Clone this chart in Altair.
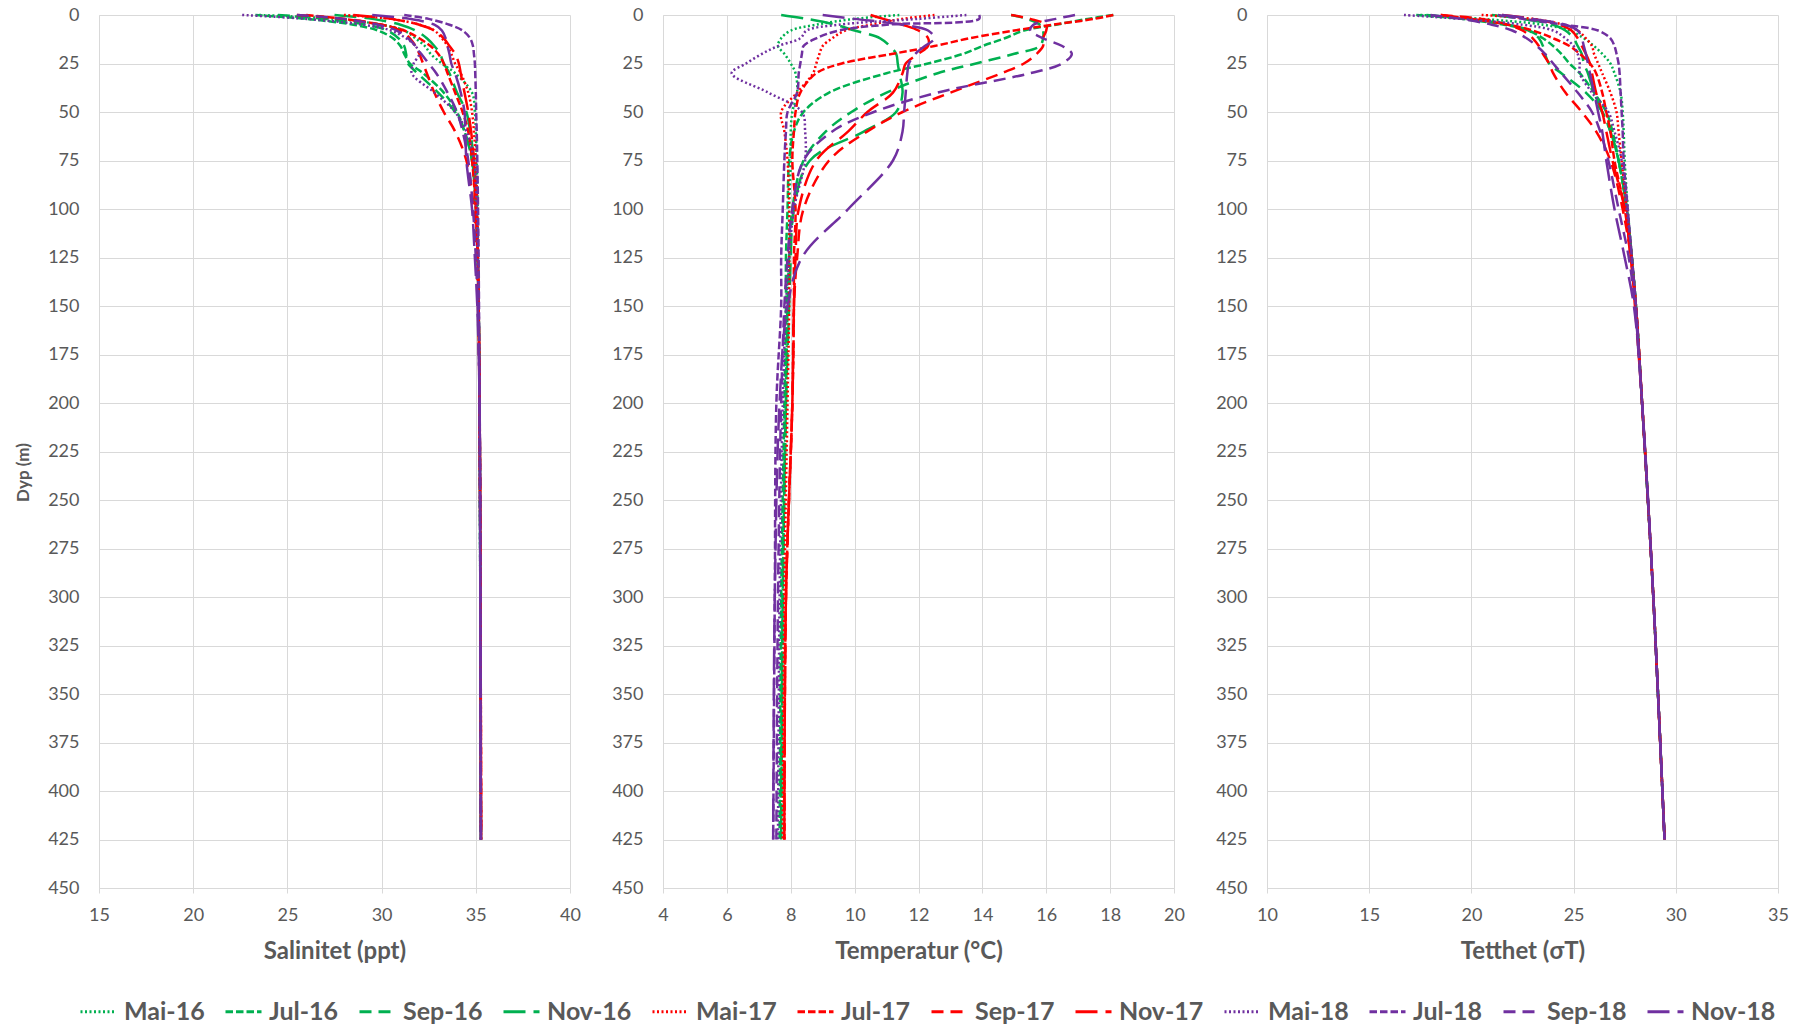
import altair as alt
import pandas as pd

DEPTHS = [0, 2, 5, 8, 12, 16, 20, 25, 30, 40, 50, 60, 75, 100, 125, 150, 200, 300, 425]

SERIES = ["Mai-16", "Jul-16", "Sep-16", "Nov-16",
          "Mai-17", "Jul-17", "Sep-17", "Nov-17",
          "Mai-18", "Jul-18", "Sep-18", "Nov-18"]
COLORS = ["#00B050"] * 4 + ["#FF0000"] * 4 + ["#7030A0"] * 4
DASHES = [[2, 2.5], [7.5, 3], [12, 7], [22, 8]] * 3

SAL = {
    "Mai-16": [23.5, 27.5, 30.0, 31.2, 31.8, 32.3, 32.6, 33.2, 33.9, 34.8, 34.95, 35.0, 35.05, 35.1, 35.12, 35.15, 35.2, 35.24, 35.27],
    "Jul-16": [23.3, 26.0, 28.5, 29.8, 30.6, 31.0, 31.2, 31.5, 32.2, 33.3, 34.0, 34.4, 34.8, 35.0, 35.1, 35.15, 35.2, 35.24, 35.27],
    "Sep-16": [24.5, 27.0, 29.2, 30.3, 30.9, 31.2, 31.3, 31.4, 31.9, 33.0, 33.9, 34.4, 34.8, 35.0, 35.1, 35.15, 35.2, 35.24, 35.27],
    "Nov-16": [27.5, 29.5, 31.0, 31.8, 32.4, 32.8, 33.1, 33.3, 33.6, 34.0, 34.5, 34.7, 34.9, 35.05, 35.1, 35.15, 35.2, 35.24, 35.27],
    "Mai-17": [28.0, 30.5, 32.0, 32.8, 33.2, 33.5, 33.7, 33.9, 34.2, 34.6, 34.8, 34.9, 35.0, 35.08, 35.12, 35.15, 35.2, 35.25, 35.28],
    "Jul-17": [26.0, 28.0, 30.0, 31.2, 32.0, 32.6, 33.0, 33.3, 33.5, 33.9, 34.3, 34.6, 34.8, 35.0, 35.1, 35.15, 35.2, 35.25, 35.28],
    "Sep-17": [25.5, 28.0, 30.0, 31.0, 31.5, 31.8, 32.0, 32.2, 32.4, 32.8, 33.3, 33.9, 34.5, 34.9, 35.05, 35.12, 35.2, 35.25, 35.28],
    "Nov-17": [28.5, 30.5, 32.0, 32.8, 33.3, 33.6, 33.9, 34.1, 34.2, 34.4, 34.6, 34.75, 34.9, 35.0, 35.1, 35.15, 35.2, 35.25, 35.28],
    "Mai-18": [22.6, 26.0, 29.0, 30.5, 31.3, 31.8, 32.0, 31.7, 31.6, 32.8, 33.9, 34.5, 34.9, 35.05, 35.1, 35.15, 35.2, 35.24, 35.27],
    "Jul-18": [31.2, 32.5, 33.6, 34.3, 34.7, 34.85, 34.9, 34.95, 34.97, 35.0, 35.02, 35.05, 35.08, 35.12, 35.15, 35.17, 35.2, 35.24, 35.27],
    "Sep-18": [25.5, 28.0, 29.8, 30.8, 31.4, 31.8, 32.1, 32.5, 32.9, 33.5, 34.0, 34.3, 34.6, 34.85, 35.0, 35.1, 35.2, 35.24, 35.27],
    "Nov-18": [29.5, 31.5, 32.8, 33.2, 33.4, 33.5, 33.6, 33.7, 33.9, 34.2, 34.4, 34.45, 34.5, 34.8, 34.95, 35.08, 35.2, 35.24, 35.27],
}

TEMP = {
    "Mai-16": [11.4, 10.0, 8.8, 8.0, 7.7, 7.6, 7.8, 8.0, 8.15, 8.2, 8.05, 8.0, 8.0, 7.95, 7.95, 7.9, 7.85, 7.75, 7.7],
    "Jul-16": [18.1, 17.3, 16.3, 15.3, 14.7, 14.0, 13.4, 12.3, 11.0, 9.2, 8.4, 8.1, 7.95, 7.9, 7.85, 7.85, 7.8, 7.7, 7.65],
    "Sep-16": [14.9, 15.4, 15.8, 15.9, 15.9, 15.8, 15.0, 13.8, 12.6, 11.0, 9.9, 9.1, 8.4, 8.05, 7.95, 7.9, 7.85, 7.75, 7.7],
    "Nov-16": [7.7, 8.5, 9.4, 10.0, 10.8, 11.1, 11.3, 11.35, 11.4, 11.5, 11.3, 10.3, 8.6, 8.1, 8.0, 7.95, 7.85, 7.75, 7.7],
    "Mai-17": [12.5, 11.5, 10.5, 9.7, 9.3, 9.0, 8.9, 8.8, 8.7, 8.2, 7.7, 7.8, 7.9, 7.95, 7.95, 7.95, 7.9, 7.8, 7.75],
    "Jul-17": [18.1, 17.5, 16.2, 15.0, 13.6, 12.5, 11.2, 9.6, 8.8, 8.3, 8.15, 8.1, 8.05, 8.15, 8.1, 8.1, 8.05, 7.85, 7.8],
    "Sep-17": [14.9, 15.5, 16.0, 16.0, 15.9, 15.9, 15.7, 15.3, 14.6, 13.0, 11.5, 10.4, 9.2, 8.4, 8.2, 8.1, 8.05, 7.85, 7.8],
    "Nov-17": [10.5, 10.9, 11.5, 12.0, 12.3, 12.3, 12.0, 11.6, 11.5, 11.2, 10.4, 9.8, 8.8, 8.25, 8.15, 8.1, 8.05, 7.85, 7.8],
    "Mai-18": [13.5, 12.0, 9.5, 8.5, 8.3, 7.6, 7.1, 6.6, 6.15, 7.3, 8.35, 8.45, 8.45, 8.1, 7.95, 7.85, 7.75, 7.65, 7.6],
    "Jul-18": [13.9, 13.9, 11.0, 9.5, 8.8, 8.4, 8.35, 8.3, 8.25, 8.2, 7.9, 7.85, 7.8, 7.75, 7.7, 7.7, 7.55, 7.5, 7.45],
    "Sep-18": [16.9, 16.3, 15.6, 15.5, 15.9, 16.5, 16.8, 16.5, 15.5, 12.6, 10.6, 9.3, 8.4, 8.05, 7.9, 7.8, 7.7, 7.6, 7.55],
    "Nov-18": [9.0, 10.0, 11.5, 12.3, 12.5, 12.2, 11.9, 11.7, 11.65, 11.6, 11.55, 11.5, 11.2, 9.8, 8.35, 7.9, 7.65, 7.5, 7.45],
}

DENS = {
    "Mai-16": [17.5, 20.5, 23.5, 24.8, 25.5, 26.0, 26.4, 26.8, 27.0, 27.3, 27.4, 27.45, 27.5, 27.65, 27.85, 28.05, 28.35, 28.9, 29.45],
    "Jul-16": [17.3, 19.5, 21.6, 22.8, 23.5, 24.0, 24.4, 24.8, 25.3, 26.0, 26.6, 26.9, 27.2, 27.6, 27.85, 28.05, 28.35, 28.9, 29.45],
    "Sep-16": [17.8, 20.0, 21.8, 22.8, 23.3, 23.5, 23.6, 23.8, 24.4, 25.6, 26.4, 26.8, 27.2, 27.6, 27.85, 28.05, 28.35, 28.9, 29.45],
    "Nov-16": [21.0, 22.5, 24.0, 24.6, 25.0, 25.2, 25.4, 25.5, 25.7, 26.0, 26.4, 26.8, 27.2, 27.6, 27.85, 28.05, 28.35, 28.9, 29.45],
    "Mai-17": [20.5, 23.0, 24.5, 25.2, 25.6, 25.9, 26.0, 26.2, 26.4, 26.8, 27.1, 27.2, 27.35, 27.6, 27.85, 28.05, 28.35, 28.9, 29.45],
    "Jul-17": [18.5, 20.0, 21.8, 23.0, 24.0, 24.8, 25.3, 25.8, 26.1, 26.4, 26.6, 26.8, 27.0, 27.5, 27.8, 28.05, 28.35, 28.9, 29.45],
    "Sep-17": [18.5, 20.5, 21.8, 22.5, 23.0, 23.3, 23.5, 23.8, 24.0, 24.6, 25.4, 26.1, 26.8, 27.4, 27.8, 28.0, 28.35, 28.9, 29.45],
    "Nov-17": [21.5, 23.0, 24.3, 24.9, 25.2, 25.4, 25.6, 25.8, 25.9, 26.1, 26.4, 26.6, 26.9, 27.5, 27.8, 28.05, 28.35, 28.9, 29.45],
    "Mai-18": [16.7, 19.5, 22.5, 24.0, 24.6, 25.0, 25.2, 25.3, 25.3, 25.9, 26.7, 27.0, 27.35, 27.6, 27.85, 28.05, 28.35, 28.9, 29.45],
    "Jul-18": [21.3, 22.5, 24.5, 26.2, 26.8, 27.0, 27.1, 27.2, 27.25, 27.3, 27.35, 27.4, 27.45, 27.65, 27.85, 28.05, 28.35, 28.9, 29.45],
    "Sep-18": [18.0, 19.5, 21.0, 22.0, 22.7, 23.2, 23.6, 24.0, 24.4, 25.2, 25.9, 26.3, 26.7, 27.2, 27.7, 28.0, 28.35, 28.9, 29.45],
    "Nov-18": [21.5, 23.0, 24.6, 25.2, 25.4, 25.5, 25.6, 25.7, 25.8, 26.0, 26.2, 26.4, 26.6, 27.0, 27.5, 27.95, 28.35, 28.9, 29.45],
}

Y_TICKS = list(range(0, 451, 25))
SAL_TICKS = [15, 20, 25, 30, 35, 40]
TEMP_TICKS = [4, 6, 8, 10, 12, 14, 16, 18, 20]
DENS_TICKS = [10, 15, 20, 25, 30, 35]

FONT = "Lato"
TXT = "#595959"
GRID = "#d9d9d9"


def long_table(table):
    rows = []
    for s in SERIES:
        for d, v in zip(DEPTHS, table[s]):
            rows.append({"series": s, "depth": d, "value": v})
    return pd.DataFrame(rows)


def panel(table, ticks, title, width, first):
    y_axis = alt.Axis(
        values=Y_TICKS, ticks=False, labelPadding=20, labelFontSize=18,
        labelFont=FONT, labelColor=TXT, gridColor=GRID, domainColor=GRID,
        labelFlush=False,
        title="Dyp (m)" if first else None,
        titleFont=FONT, titleFontSize=17, titleFontWeight="bold", titleColor=TXT,
        titleX=-66.5, titleY=457,
    )
    x_axis = alt.Axis(
        values=ticks, tickSize=5, tickColor=GRID, labelPadding=13,
        labelFontSize=18, labelFont=FONT, labelColor=TXT, gridColor=GRID,
        labelFlush=False,
        domainColor=GRID, title=title, titleFont=FONT, titleFontSize=24,
        titleFontWeight="bold", titleColor=TXT, titlePadding=15,
    )
    return alt.Chart(long_table(table)).mark_line(
        strokeWidth=2.5, interpolate="catmull-rom"
    ).encode(
        x=alt.X("value:Q", scale=alt.Scale(domain=[ticks[0], ticks[-1]], nice=False, zero=False), axis=x_axis),
        y=alt.Y("depth:Q", scale=alt.Scale(domain=[0, 450], reverse=True, nice=False), axis=y_axis),
        color=alt.Color("series:N", scale=alt.Scale(domain=SERIES, range=COLORS), sort=SERIES,
                        legend=alt.Legend(title=None)),
        strokeDash=alt.StrokeDash("series:N", scale=alt.Scale(domain=SERIES, range=DASHES), sort=SERIES,
                                  legend=alt.Legend(title=None)),
        order=alt.Order("depth:Q"),
    ).properties(width=width, height=873)


chart = alt.hconcat(
    panel(SAL, SAL_TICKS, "Salinitet (ppt)", 471, True),
    panel(TEMP, TEMP_TICKS, "Temperatur (°C)", 511, False),
    panel(DENS, DENS_TICKS, "Tetthet (σT)", 511, False),
    spacing=93, bounds="flush",
).properties(
    padding={"left": 14, "top": 6, "right": 5, "bottom": 5},
    background="white",
).configure_view(
    stroke=None
).configure_legend(
    orient="none", legendX=-20, legendY=977, direction="horizontal", columns=12,
    symbolType="stroke", symbolSize=1296, symbolStrokeWidth=3,
    labelFontSize=25, labelFont=FONT, labelFontWeight="bold", labelColor=TXT,
    columnPadding=14, labelOffset=6, labelLimit=200,
)

chart.save("out.html", embed_options={"renderer": "svg", "actions": False})
